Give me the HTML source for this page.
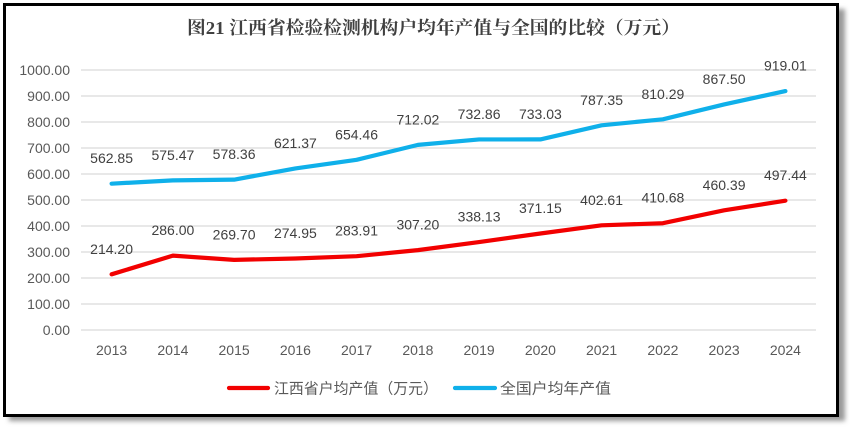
<!DOCTYPE html>
<html>
<head>
<meta charset="utf-8">
<style>
  html,body{margin:0;padding:0;background:#fff;}
  body{width:850px;height:428px;overflow:hidden;position:relative;}
  svg{position:absolute;left:0;top:0;}
  .ax{font-family:"Liberation Sans","Noto Sans CJK SC",sans-serif;font-size:14px;fill:#595959;}
  .dl{font-family:"Liberation Sans","Noto Sans CJK SC",sans-serif;font-size:14px;fill:#404040;text-anchor:middle;}
  .lg{font-family:"Liberation Sans","Noto Sans CJK SC",sans-serif;font-size:15px;fill:#595959;}
  .tt{font-family:"Liberation Serif","Noto Serif CJK SC",serif;font-size:18px;font-weight:bold;fill:#404040;}
</style>
</head>
<body>
<svg width="850" height="428" viewBox="0 0 850 428" xmlns="http://www.w3.org/2000/svg">
  <defs>
    <filter id="sh" x="-5%" y="-5%" width="115%" height="120%">
      <feGaussianBlur stdDeviation="2.5"/>
    </filter>
  </defs>
  <!-- shadow -->
  <rect x="9" y="9" width="836" height="412" fill="#9a9a9a" filter="url(#sh)"/>
  <!-- frame -->
  <rect x="4.5" y="4.5" width="833" height="411" fill="#fff" stroke="#000" stroke-width="3"/>

  <!-- title -->
  <text class="tt" x="187" y="34" textLength="493" lengthAdjust="spacingAndGlyphs">图21 江西省检验检测机构户均年产值与全国的比较（万元）</text>

  <!-- gridlines -->
  <g stroke="#d9d9d9" stroke-width="1.3">
    <line x1="81" y1="70" x2="816" y2="70"/>
    <line x1="81" y1="96" x2="816" y2="96"/>
    <line x1="81" y1="122" x2="816" y2="122"/>
    <line x1="81" y1="148" x2="816" y2="148"/>
    <line x1="81" y1="174" x2="816" y2="174"/>
    <line x1="81" y1="200" x2="816" y2="200"/>
    <line x1="81" y1="226" x2="816" y2="226"/>
    <line x1="81" y1="252" x2="816" y2="252"/>
    <line x1="81" y1="278" x2="816" y2="278"/>
    <line x1="81" y1="304" x2="816" y2="304"/>
    <line x1="81" y1="330" x2="816" y2="330"/>
  </g>

  <!-- y axis labels -->
  <g class="ax" text-anchor="end">
    <text x="70" y="75">1000.00</text>
    <text x="70" y="101">900.00</text>
    <text x="70" y="127">800.00</text>
    <text x="70" y="153">700.00</text>
    <text x="70" y="179">600.00</text>
    <text x="70" y="205">500.00</text>
    <text x="70" y="231">400.00</text>
    <text x="70" y="257">300.00</text>
    <text x="70" y="283">200.00</text>
    <text x="70" y="309">100.00</text>
    <text x="70" y="335">0.00</text>
  </g>

  <!-- x axis labels -->
  <g class="ax" text-anchor="middle">
    <text x="111.6" y="355">2013</text>
    <text x="172.9" y="355">2014</text>
    <text x="234.1" y="355">2015</text>
    <text x="295.4" y="355">2016</text>
    <text x="356.6" y="355">2017</text>
    <text x="417.9" y="355">2018</text>
    <text x="479.1" y="355">2019</text>
    <text x="540.4" y="355">2020</text>
    <text x="601.6" y="355">2021</text>
    <text x="662.9" y="355">2022</text>
    <text x="724.1" y="355">2023</text>
    <text x="785.4" y="355">2024</text>
  </g>

  <!-- national line (blue) -->
  <polyline fill="none" stroke="#0fb0ea" stroke-width="4.2" stroke-linejoin="round" stroke-linecap="round"
    points="111.6,183.66 172.9,180.38 234.1,179.63 295.4,168.44 356.6,159.84 417.9,144.87 479.1,139.46 540.4,139.41 601.6,125.29 662.9,119.32 724.1,104.45 785.4,91.06"/>

  <!-- Jiangxi line (red) -->
  <polyline fill="none" stroke="#f20000" stroke-width="4.2" stroke-linejoin="round" stroke-linecap="round"
    points="111.6,274.31 172.9,255.64 234.1,259.88 295.4,258.51 356.6,256.18 417.9,250.13 479.1,242.09 540.4,233.50 601.6,225.32 662.9,223.22 724.1,210.30 785.4,200.67"/>

  <!-- blue labels -->
  <g class="dl">
    <text x="111.6" y="163.2">562.85</text>
    <text x="172.9" y="159.9">575.47</text>
    <text x="234.1" y="159.1">578.36</text>
    <text x="295.4" y="147.9">621.37</text>
    <text x="356.6" y="139.3">654.46</text>
    <text x="417.9" y="124.4">712.02</text>
    <text x="479.1" y="118.9">732.86</text>
    <text x="540.4" y="118.9">733.03</text>
    <text x="601.6" y="104.8">787.35</text>
    <text x="662.9" y="98.8">810.29</text>
    <text x="724.1" y="83.9">867.50</text>
    <text x="785.4" y="70.5">919.01</text>
  </g>

  <!-- red labels -->
  <g class="dl">
    <text x="111.6" y="253.8">214.20</text>
    <text x="172.9" y="235.1">286.00</text>
    <text x="234.1" y="239.4">269.70</text>
    <text x="295.4" y="238.0">274.95</text>
    <text x="356.6" y="235.7">283.91</text>
    <text x="417.9" y="229.6">307.20</text>
    <text x="479.1" y="221.6">338.13</text>
    <text x="540.4" y="213.0">371.15</text>
    <text x="601.6" y="204.8">402.61</text>
    <text x="662.9" y="202.7">410.68</text>
    <text x="724.1" y="189.8">460.39</text>
    <text x="785.4" y="180.2">497.44</text>
  </g>

  <!-- legend -->
  <line x1="229" y1="388" x2="268" y2="388" stroke="#f20000" stroke-width="4.2" stroke-linecap="round"/>
  <text class="lg" x="274" y="393.5" textLength="164" lengthAdjust="spacingAndGlyphs">江西省户均产值（万元）</text>
  <line x1="455" y1="388" x2="495" y2="388" stroke="#0fb0ea" stroke-width="4.2" stroke-linecap="round"/>
  <text class="lg" x="500" y="393.5" textLength="111" lengthAdjust="spacingAndGlyphs">全国户均年产值</text>
</svg>
</body>
</html>
